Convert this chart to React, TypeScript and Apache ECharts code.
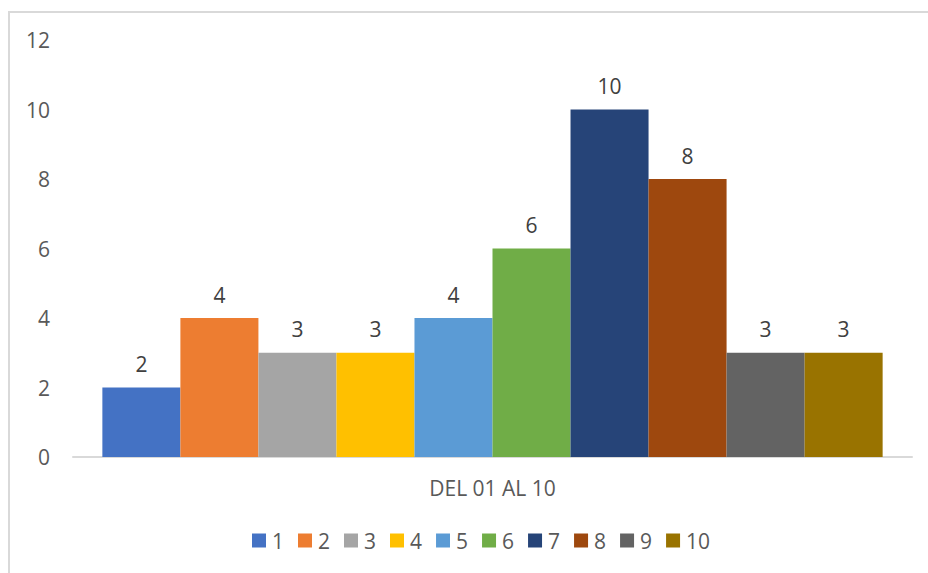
import React, { useEffect, useRef } from "react";
import * as echarts from "echarts";

const categories = ["DEL 01 AL 10"];
const seriesNames = ["1", "2", "3", "4", "5", "6", "7", "8", "9", "10"];
const seriesValues = [2, 4, 3, 3, 4, 6, 10, 8, 3, 3];
const colors = [
  "#4472C4", "#ED7D31", "#A5A5A5", "#FFC000", "#5B9BD5",
  "#70AD47", "#264478", "#9E480E", "#636363", "#997300",
];
const yTicks = [0, 2, 4, 6, 8, 10, 12];

const FONT = "'Open Sans', 'Liberation Sans', sans-serif";

export default function App() {
  const ref = useRef<HTMLDivElement>(null);
  useEffect(() => {
    if (!ref.current) return;
    const chart = echarts.init(ref.current, undefined, { renderer: "svg" });
    chart.setOption({
      animation: false,
      color: colors,
      textStyle: { fontFamily: FONT },
      graphic: [
        {
          type: "rect",
          shape: { x: 9, y: 12, width: 1200, height: 1000 },
          style: { fill: "none", stroke: "#d9d9d9", lineWidth: 2 },
          silent: true,
        },
      ],
      grid: { left: 73, right: 16, top: 40, bottom: 116, containLabel: false },
      legend: {
        data: seriesNames,
        left: 247,
        top: 525,
        icon: "rect",
        itemWidth: 14,
        itemHeight: 14,
        itemGap: 14,
        textStyle: { color: "#595959", fontSize: 21, fontFamily: FONT, padding: [0, 0, 0, 1] },
      },
      xAxis: {
        type: "category",
        data: categories,
        axisLine: { show: true, lineStyle: { color: "#d9d9d9", width: 2 } },
        axisTick: { show: false },
        axisLabel: { color: "#595959", fontSize: 21, margin: 20, fontFamily: FONT },
      },
      yAxis: {
        type: "value",
        min: yTicks[0],
        max: yTicks[yTicks.length - 1],
        interval: 2,
        axisLine: { show: false },
        axisTick: { show: false },
        splitLine: { show: false },
        axisLabel: { color: "#595959", fontSize: 21, margin: 23, fontFamily: FONT },
      },
      series: seriesNames.map((name, i) => ({
        name,
        type: "bar",
        data: [seriesValues[i]],
        barGap: "0%",
        barCategoryGap: "7%",
        label: {
          show: true,
          position: "top",
          distance: 13,
          color: "#404040",
          fontSize: 21,
          fontFamily: FONT,
        },
      })),
    });
    return () => chart.dispose();
  }, []);
  return (
    <div
      ref={ref}
      style={{ position: "fixed", left: 0, top: 0, width: 928, height: 573, background: "#fff" }}
    />
  );
}
